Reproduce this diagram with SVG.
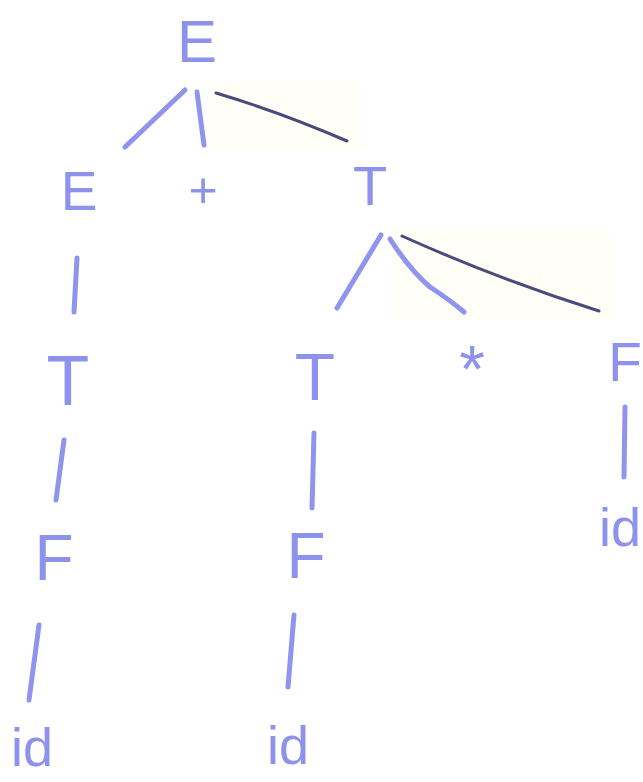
<svg xmlns="http://www.w3.org/2000/svg" width="643" height="782" viewBox="0 0 643 782">
<style>
.n{font-family:"Liberation Sans","DejaVu Sans",sans-serif;font-size:60px;fill:#8d92ec;text-anchor:middle}
.e{fill:none;stroke:#8f94ee;stroke-width:5;stroke-linecap:round}
.d{fill:none;stroke:#4b4a7e;stroke-width:3;stroke-linecap:round}
</style>
<rect width="643" height="782" fill="#ffffff"/>
<rect x="205" y="82" width="155" height="68" fill="#fffff7"/>
<rect x="392" y="228" width="218" height="92" fill="#fffff7"/>
<g id="edges">
<path class="e" d="M185 90 L125 147"/>
<path class="e" d="M197 92 L204 145"/>
<path class="d" d="M216 93 Q280 112 347 141"/>
<path class="e" d="M77 258 L74 312"/>
<path class="e" d="M64 440 L56 500"/>
<path class="e" d="M39 625 L29 700"/>
<path class="e" d="M381 235 L337 308"/>
<path class="e" d="M390 239 Q410 270 430 287 Q450 300 464 312"/>
<path class="d" d="M402 236 Q500 280 599 311"/>
<path class="e" d="M314 433 L312 508"/>
<path class="e" d="M625 407 L624 477"/>
<path class="e" d="M294 615 L288 687"/>
</g>
<g id="n_E0"><text class="n" x="197" y="62">E</text></g>
<g id="n_E1"><text class="n" x="79" y="210" style="font-size:55px">E</text></g>
<g id="n_plus"><text class="n" x="203" y="207" style="font-size:50px">+</text></g>
<g id="n_T0"><text class="n" x="370" y="205" style="font-size:56px">T</text></g>
<g id="n_T1"><text class="n" x="68" y="405" style="font-size:70px">T</text></g>
<g id="n_T2"><text class="n" x="315" y="400" style="font-size:66px">T</text></g>
<g id="n_star"><text class="n" x="472" y="392" style="font-size:66px">*</text></g>
<g id="n_F2"><text class="n" x="625" y="381" style="font-size:55px">F</text></g>
<g id="n_F0"><text class="n" x="54" y="580" style="font-size:64px">F</text></g>
<g id="n_F1"><text class="n" x="306" y="578" style="font-size:64px">F</text></g>
<g id="n_id2"><text class="n" x="620" y="546" style="font-size:54px">id</text></g>
<g id="n_id0"><text class="n" x="32" y="766" style="font-size:54px">id</text></g>
<g id="n_id1"><text class="n" x="288" y="764" style="font-size:54px">id</text></g>
</svg>
